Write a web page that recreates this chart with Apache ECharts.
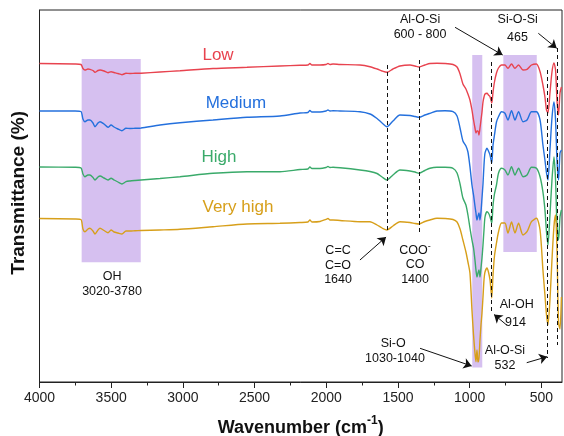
<!DOCTYPE html>
<html><head><meta charset="utf-8">
<script src="https://cdn.jsdelivr.net/npm/echarts@6/dist/echarts.min.js"></script>
<style>html,body{margin:0;padding:0;background:#fff}#c{width:564px;height:436px}</style>
</head><body><div id="c"></div>
<script>
// Wavenumber grid (cm-1)
const wavenumbers = [4000,3752,3711,3697,3683,3662,3648,3627,3613,3592,
 3578,3550,3522,3501,3480,3453,3425,3397,3369,3334,
 3292,3160,3020,2790,2553,2323,2183,2128,2114,2100,
 2044,2002,1988,1974,1953,1904,1765,1695,1646,1611,
 1577,1535,1486,1416,1381,1353,1312,1277,1228,1172,
 1116,1088,1067,1047,1026,1012,998,984,973,963,
 956,949,942,935,928,921,914,907,900,893,
 879,869,858,846,837,827,813,799,778,754,
 733,708,684,659,628,600,569,534,509,489,
 475,464,454,440,426,412,401,391,380,370,360];
// Transmittance (arbitrary offset units) per sample
const lowT = [318.5,318,317.5,313.5,312,313,312.7,311.5,309.7,311.5,
 312,311,309.3,310.3,309.5,308.5,307.3,308.7,308.5,308.7,
 308.8,310,311.3,313.5,314.7,316,316.7,317,318.5,317,
 317,317.5,318.5,317.5,318,317.5,317,315.3,313,311,
 309.7,313,316,317,316,315,317,318.5,318.7,318.5,
 317.5,315,308,298,293,288,282,272,262,254,
 249,251,251,247,254,262,270,280,285,288,
 288.7,287,285.3,279,290,300,309,314,317,317,
 313.7,318,313.7,317,312,312.7,317,318,310.3,297,
 285,272,269,289,310,319,312,282,267,289,295];
const mediumT = [271,271,270.5,263,260.3,262,262,259,255.3,259,
 260.3,258,254.7,257,255,253,251.3,253.7,253.5,253.7,
 254,257,259.3,262,264.7,266,269,269.5,271.5,270,
 270,271,272,271,271.3,271,270.3,268,263.5,259,
 255.3,261,267,266.5,265.5,264.7,267,268.7,271,271.3,
 270.3,266,254,241,236,230,215.3,197,187,176,
 169,162,166,169,162,170,184,198,217,229,
 233.7,231,227,218.7,237,247,260,265.3,270.3,268.7,
 262,271.3,262,270.3,260.3,262,270.3,270.3,262,237,
 222,209,202,232,264,280,262,222,202,229,232];
const highT = [215,214.7,214.2,208,205.3,207,207,204.5,202,205,
 206,204,202,203.7,202,200,198,200.3,201,201.5,
 202,203.5,205.3,208.7,210.3,210.3,212.5,213,215,213.5,
 213.5,214.5,215.5,214.5,214.7,214.2,212,210.5,208.5,205,
 202,207,212,211,210,208.7,211.5,213.7,214.7,214.7,
 213.7,209,198,184,177,167,154,142,134,122,
 112,105,109,112,105,114,124,137,152,165,
 170.3,169,165.3,158.7,177,188,197,208.7,213.7,212,
 207,215.3,207,213.7,205.3,207,214.7,213.7,205.3,190,
 172,150,137,167,202,225,202,157,142,165,172];
const veryHighT = [163.5,163,162.5,153,150.3,153,153.7,151,148,152,
 153.7,151.5,149.3,152,150,149,148,151,151,151.3,
 151.5,152,152.7,155.3,158,158.7,159.5,160,162,160,
 160.5,162.7,163.5,162,162,161.5,160.3,160.3,157,154,
 152,156,160.3,159.5,158.5,158,160.5,162,163.7,163.5,
 162.5,160,153,142,130,120,109,72,47,29,
 20.3,32,20,24,42,57,69,85,102,110,
 114,110,102,84,107,126,139,150,159,159,
 149,160,149,158.7,147,150.3,160.3,163.7,152,112,
 87,67,57,82,122,156,167,132,59,53,85];
const seriesNames = ['Low','Medium','High','Very high'];
const majorTicks = [4000,3500,3000,2500,2000,1500,1000,500];
const minorTicks = [3750,3250,2750,2250,1750,1250,750];

const all = [lowT, mediumT, highT, veryHighT];
all.forEach((a, i) => { if (a.length !== wavenumbers.length) throw new Error(seriesNames[i] + ' length ' + a.length); });

const colors = ['#e8434f', '#2470dd', '#3aaa6a', '#d79f1a'];
const FONT = "'Liberation Sans', Arial, sans-serif";
const X_MIN = 356, X_MAX = 4000, Y_MIN = 0, Y_MAX = 372;

// annotation geometry in data coordinates
const bands = [[3706, 323, 3294, 119.7], [982, 327, 912, 14.5], [765, 327, 532, 130]];
const guides = [[1577, 317, 152], [1353, 322, 147], [846, 320, 69], [459, 312, 24], [389, 334, 37]];
const arrows = [[1765, 122, 1583, 145], [742, 57, 830, 67.5], [602, 19.3, 459, 25.3],
  [1102, 354.7, 770, 327], [521, 348.7, 393, 333.7], [1346, 33.7, 986, 16]];
const seriesLabels = [[2755, 327], [2630, 279], [2748, 225], [2616, 175]];
const notes = [
  ['Al-O-Si', 1346, 362], ['600 - 800', 1346, 347],
  ['Si-O-Si', 665, 362], ['465', 666, 344],
  ['OH', 3494, 105], ['3020-3780', 3494, 90],
  ['C=C', 1918, 131], ['C=O', 1918, 116.5], ['1640', 1918, 102],
  ['{t|COO}{s|-}', 1381, 132], ['CO', 1381, 117], ['1400', 1381, 102.5],
  ['Al-OH', 672, 77], ['914', 680, 59],
  ['Si-O', 1533, 38.7], ['1030-1040', 1521, 23.7],
  ['Al-O-Si', 754, 31.5], ['532', 754, 16.5]
];

const chart = echarts.init(document.getElementById('c'), null, {renderer: 'canvas'});

const lineSeries = all.map((arr, i) => ({
  type: 'line', name: seriesNames[i], xAxisIndex: 0, yAxisIndex: 0,
  data: wavenumbers.map((w, j) => [w, arr[j]]),
  showSymbol: false, smooth: 0.25, z: 2,
  lineStyle: {color: colors[i], width: 1.4}, itemStyle: {color: colors[i]},
  markPoint: {
    silent: true, symbol: 'rect', symbolSize: 1, itemStyle: {color: 'rgba(0,0,0,0)'},
    label: {show: true, position: 'inside', color: colors[i], fontSize: 17, fontFamily: FONT, formatter: seriesNames[i]},
    data: [{coord: seriesLabels[i]}]
  }
}));

const option = {
  animation: false,
  backgroundColor: '#fff',
  grid: {left: 39.5, right: 2, top: 10, bottom: 54, containLabel: false, outerBoundsMode: 'none',
    show: true, borderColor: '#222', borderWidth: 1, backgroundColor: 'transparent'},
  xAxis: [{
    type: 'value', min: X_MIN, max: X_MAX, inverse: true, position: 'bottom',
    name: '{a|Wavenumber (cm}{s|-1}{a|)}', nameLocation: 'middle', nameGap: 33,
    nameTextStyle: {rich: {
      a: {fontSize: 18, fontWeight: 'bold', fontFamily: FONT, color: '#111', lineHeight: 22, verticalAlign: 'bottom'},
      s: {fontSize: 12, fontWeight: 'bold', fontFamily: FONT, color: '#111', lineHeight: 22, verticalAlign: 'top'}
    }},
    axisLine: {show: true, onZero: false, lineStyle: {color: '#222', width: 1}},
    axisTick: {show: true, inside: false, length: 6, customValues: majorTicks, lineStyle: {color: '#222'}},
    axisLabel: {show: true, customValues: majorTicks, margin: 9, fontSize: 14, fontFamily: FONT, color: '#222',
      formatter: v => String(v)},
    splitLine: {show: false}
  }, {
    type: 'value', min: X_MIN, max: X_MAX, inverse: true, position: 'bottom',
    axisLine: {show: false},
    axisTick: {show: true, inside: false, length: 3.5, customValues: minorTicks, lineStyle: {color: '#222'}},
    axisLabel: {show: false},
    splitLine: {show: false}
  }],
  yAxis: {
    type: 'value', min: Y_MIN, max: Y_MAX,
    axisLine: {show: true, lineStyle: {color: '#222'}}, axisTick: {show: false}, axisLabel: {show: false}, splitLine: {show: false}
  },
  graphic: [{
    type: 'text', left: 9, top: 111, rotation: Math.PI / 2,
    style: {text: 'Transmittance (%)', font: "bold 19px 'Liberation Sans', Arial, sans-serif", fill: '#111'}
  }],
  series: lineSeries.concat([
    {
      type: 'line', data: [], z: 5, xAxisIndex: 0, yAxisIndex: 0,
      markArea: {silent: true, itemStyle: {color: 'rgba(165,115,222,0.45)'},
        data: bands.map(b => [{coord: [b[0], b[1]]}, {coord: [b[2], b[3]]}])}
    },
    {
      type: 'line', data: [], z: 6, xAxisIndex: 0, yAxisIndex: 0,
      markLine: {silent: true, symbol: ['none', 'none'], label: {show: false},
        lineStyle: {color: '#111', width: 1, type: [4, 3]},
        data: guides.map(g => [{coord: [g[0], g[1]]}, {coord: [g[0], g[2]]}])}
    },
    {
      type: 'line', data: [], z: 6, xAxisIndex: 0, yAxisIndex: 0,
      markLine: {silent: true, symbol: ['none', 'arrow'], symbolSize: 8, label: {show: false},
        lineStyle: {color: '#111', width: 1, type: 'solid'},
        data: arrows.map(a => [{coord: [a[0], a[1]]}, {coord: [a[2], a[3]]}])}
    },
    {
      type: 'line', data: [], z: 7, xAxisIndex: 0, yAxisIndex: 0,
      markPoint: {silent: true, symbol: 'rect', symbolSize: 1, itemStyle: {color: 'rgba(0,0,0,0)'},
        label: {show: true, position: 'inside', color: '#111', fontSize: 12.5, fontFamily: FONT,
          rich: {t: {fontSize: 12.5, fontFamily: FONT, color: '#111', lineHeight: 15, verticalAlign: 'bottom'},
                 s: {fontSize: 9, fontFamily: FONT, color: '#111', lineHeight: 15, verticalAlign: 'top'}}},
        data: notes.map(n => ({coord: [n[1], n[2]], label: {formatter: n[0]}}))}
    }
  ])
};
chart.setOption(option);
</script></body></html>
